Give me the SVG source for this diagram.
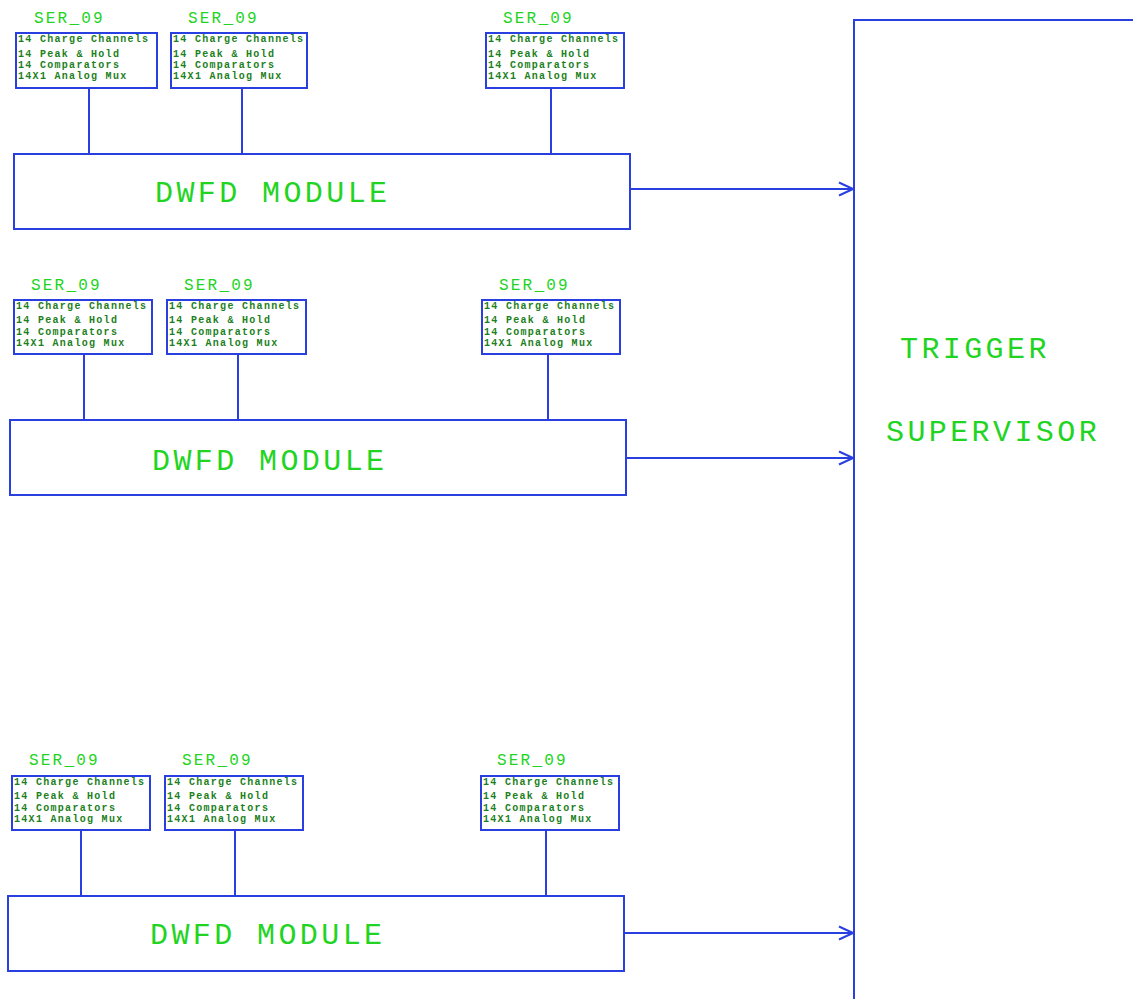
<svg xmlns="http://www.w3.org/2000/svg" width="1133" height="999" viewBox="0 0 1133 999">
  <style>
    .box { fill: #ffffff; stroke: #2a3fe0; stroke-width: 2; }
    .wire { fill: none; stroke: #2a3fe0; stroke-width: 2; }
    .big { font-family: "Liberation Mono", "DejaVu Sans Mono", monospace; font-size: 30px; letter-spacing: 3.4px; fill: #22d422; }
    .lbl { font-family: "Liberation Mono", "DejaVu Sans Mono", monospace; font-size: 16px; letter-spacing: 2.2px; fill: #22d422; }
    .sm { font-family: "Liberation Mono", "DejaVu Sans Mono", monospace; font-size: 10px; font-weight: bold; letter-spacing: 1.3px; fill: #1c801c; }
  </style>
  <defs>
    <marker id="arr" markerWidth="18" markerHeight="16" refX="16" refY="8" orient="auto" markerUnits="userSpaceOnUse">
      <polyline points="2,1.5 16,8 2,14.5" fill="none" stroke="#2a3fe0" stroke-width="2"/>
    </marker>
  </defs>

  <!-- trigger supervisor (open frame running off the page) -->
  <g id="trigger-supervisor">
    <polyline class="wire" points="854,999 854,20 1133,20"/>
    <text class="big" x="900" y="358">TRIGGER</text>
    <text class="big" x="886" y="441">SUPERVISOR</text>
  </g>

  <!-- row 1 -->
  <g id="ser-1a">
    <text class="lbl" x="34" y="23">SER_09</text>
    <rect class="box" x="16" y="33" width="141" height="55"/>
    <text class="sm" x="18" y="42">14 Charge Channels</text>
    <text class="sm" x="18" y="57">14 Peak &amp; Hold</text>
    <text class="sm" x="18" y="68">14 Comparators</text>
    <text class="sm" x="18" y="79">14X1 Analog Mux</text>
  </g>
  <g id="ser-1b">
    <text class="lbl" x="188" y="23">SER_09</text>
    <rect class="box" x="171" y="33" width="136" height="55"/>
    <text class="sm" x="173" y="42">14 Charge Channels</text>
    <text class="sm" x="173" y="57">14 Peak &amp; Hold</text>
    <text class="sm" x="173" y="68">14 Comparators</text>
    <text class="sm" x="173" y="79">14X1 Analog Mux</text>
  </g>
  <g id="ser-1c">
    <text class="lbl" x="503" y="23">SER_09</text>
    <rect class="box" x="486" y="33" width="138" height="55"/>
    <text class="sm" x="488" y="42">14 Charge Channels</text>
    <text class="sm" x="488" y="57">14 Peak &amp; Hold</text>
    <text class="sm" x="488" y="68">14 Comparators</text>
    <text class="sm" x="488" y="79">14X1 Analog Mux</text>
  </g>
  <g id="dwfd-1">
    <rect class="box" x="14" y="154" width="616" height="75"/>
    <text class="big" x="155" y="202">DWFD MODULE</text>
  </g>

  <!-- row 2 -->
  <g id="ser-2a">
    <text class="lbl" x="31" y="290">SER_09</text>
    <rect class="box" x="14" y="300" width="138" height="54"/>
    <text class="sm" x="16" y="309">14 Charge Channels</text>
    <text class="sm" x="16" y="323">14 Peak &amp; Hold</text>
    <text class="sm" x="16" y="335">14 Comparators</text>
    <text class="sm" x="16" y="346">14X1 Analog Mux</text>
  </g>
  <g id="ser-2b">
    <text class="lbl" x="184" y="290">SER_09</text>
    <rect class="box" x="167" y="300" width="139" height="54"/>
    <text class="sm" x="169" y="309">14 Charge Channels</text>
    <text class="sm" x="169" y="323">14 Peak &amp; Hold</text>
    <text class="sm" x="169" y="335">14 Comparators</text>
    <text class="sm" x="169" y="346">14X1 Analog Mux</text>
  </g>
  <g id="ser-2c">
    <text class="lbl" x="499" y="290">SER_09</text>
    <rect class="box" x="482" y="300" width="138" height="54"/>
    <text class="sm" x="484" y="309">14 Charge Channels</text>
    <text class="sm" x="484" y="323">14 Peak &amp; Hold</text>
    <text class="sm" x="484" y="335">14 Comparators</text>
    <text class="sm" x="484" y="346">14X1 Analog Mux</text>
  </g>
  <g id="dwfd-2">
    <rect class="box" x="10" y="420" width="616" height="75"/>
    <text class="big" x="152" y="470">DWFD MODULE</text>
  </g>

  <!-- row 3 -->
  <g id="ser-3a">
    <text class="lbl" x="29" y="765">SER_09</text>
    <rect class="box" x="12" y="776" width="138" height="54"/>
    <text class="sm" x="14" y="785">14 Charge Channels</text>
    <text class="sm" x="14" y="799">14 Peak &amp; Hold</text>
    <text class="sm" x="14" y="811">14 Comparators</text>
    <text class="sm" x="14" y="822">14X1 Analog Mux</text>
  </g>
  <g id="ser-3b">
    <text class="lbl" x="182" y="765">SER_09</text>
    <rect class="box" x="165" y="776" width="138" height="54"/>
    <text class="sm" x="167" y="785">14 Charge Channels</text>
    <text class="sm" x="167" y="799">14 Peak &amp; Hold</text>
    <text class="sm" x="167" y="811">14 Comparators</text>
    <text class="sm" x="167" y="822">14X1 Analog Mux</text>
  </g>
  <g id="ser-3c">
    <text class="lbl" x="497" y="765">SER_09</text>
    <rect class="box" x="481" y="776" width="138" height="54"/>
    <text class="sm" x="483" y="785">14 Charge Channels</text>
    <text class="sm" x="483" y="799">14 Peak &amp; Hold</text>
    <text class="sm" x="483" y="811">14 Comparators</text>
    <text class="sm" x="483" y="822">14X1 Analog Mux</text>
  </g>
  <g id="dwfd-3">
    <rect class="box" x="8" y="896" width="616" height="75"/>
    <text class="big" x="150" y="944">DWFD MODULE</text>
  </g>

  <!-- connectors -->
  <g id="connectors">
    <line class="wire" x1="89" y1="88" x2="89" y2="154"/>
    <line class="wire" x1="242" y1="88" x2="242" y2="154"/>
    <line class="wire" x1="551" y1="88" x2="551" y2="154"/>
    <line class="wire" x1="630" y1="189" x2="853" y2="189" marker-end="url(#arr)"/>

    <line class="wire" x1="84" y1="354" x2="84" y2="420"/>
    <line class="wire" x1="238" y1="354" x2="238" y2="420"/>
    <line class="wire" x1="548" y1="354" x2="548" y2="420"/>
    <line class="wire" x1="626" y1="458" x2="853" y2="458" marker-end="url(#arr)"/>

    <line class="wire" x1="81" y1="830" x2="81" y2="896"/>
    <line class="wire" x1="235" y1="830" x2="235" y2="896"/>
    <line class="wire" x1="546" y1="830" x2="546" y2="896"/>
    <line class="wire" x1="624" y1="933" x2="853" y2="933" marker-end="url(#arr)"/>
  </g>
</svg>
